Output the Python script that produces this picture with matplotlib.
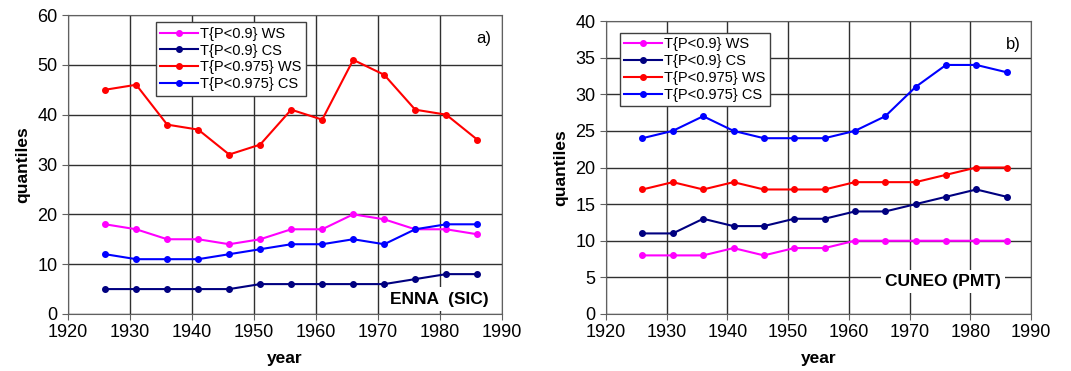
import numpy as np
import matplotlib
matplotlib.use('Agg')
import matplotlib.pyplot as plt

plt.rcParams['font.family'] = ['Liberation Sans', 'DejaVu Sans']

years = [1926, 1931, 1936, 1941, 1946, 1951, 1956, 1961, 1966, 1971, 1976, 1981, 1986]
labels = ['T{P<0.9} WS', 'T{P<0.9} CS', 'T{P<0.975} WS', 'T{P<0.975} CS']
colors = ['#ff00ff', '#000080', '#ff0000', '#0000ff']

# ENNA (SIC)
enna_ws90 = [18, 17, 15, 15, 14, 15, 17, 17, 20, 19, 17, 17, 16]
enna_cs90 = [5, 5, 5, 5, 5, 6, 6, 6, 6, 6, 7, 8, 8]
enna_ws975 = [45, 46, 38, 37, 32, 34, 41, 39, 51, 48, 41, 40, 35]
enna_cs975 = [12, 11, 11, 11, 12, 13, 14, 14, 15, 14, 17, 18, 18]

# CUNEO (PMT)
cuneo_ws90 = [8, 8, 8, 9, 8, 9, 9, 10, 10, 10, 10, 10, 10]
cuneo_cs90 = [11, 11, 13, 12, 12, 13, 13, 14, 14, 15, 16, 17, 16]
cuneo_ws975 = [17, 18, 17, 18, 17, 17, 17, 18, 18, 18, 19, 20, 20]
cuneo_cs975 = [24, 25, 27, 25, 24, 24, 24, 25, 27, 31, 34, 34, 33]

fig = plt.figure(figsize=(10.71, 3.71), dpi=100)
W, H = 1071, 371
ax1 = fig.add_axes([68 / W, 1 - 314 / H, (502 - 68) / W, (314 - 15) / H])
ax2 = fig.add_axes([606 / W, 1 - 314 / H, (1031 - 606) / W, (314 - 21) / H])


def draw(ax, series, ymax, ystep, tag, station, leg_box, st_pos):
    for vals, lab, c in zip(series, labels, colors):
        ax.plot(years, vals, color=c, lw=1.5, marker='o', ms=4, label=lab)
    ax.set_xlim(1920, 1990)
    ax.set_ylim(0, ymax)
    ax.set_xticks(np.arange(1920, 1991, 10))
    ax.set_yticks(np.arange(0, ymax + 1, ystep))
    ax.grid(True, color='#303030', lw=1)
    ax.set_axisbelow(True)
    for s in ax.spines.values():
        s.set_color('#606060')
    ax.tick_params(labelsize=13, length=4, color='#606060')
    ax.set_xlabel('year', fontsize=12.5, fontweight='bold', labelpad=7)
    ax.set_ylabel('quantiles', fontsize=12.5, fontweight='bold', labelpad=5)
    leg = ax.legend(loc='upper left', bbox_to_anchor=leg_box, fontsize=10.5,
                    frameon=True, fancybox=False, edgecolor='#404040',
                    handlelength=2.6, labelspacing=0.2, borderpad=0.3,
                    handletextpad=0.15, framealpha=1)
    leg.get_frame().set_linewidth(1)
    ax.text(0.975, 0.92, tag, transform=ax.transAxes, fontsize=12,
            ha='right', va='center')
    ax.text(st_pos[0], st_pos[1], station, transform=ax.transAxes,
            fontsize=12.5, fontweight='bold', ha='right', va='center',
            bbox=dict(facecolor='white', edgecolor='none', pad=3))


draw(ax1, [enna_ws90, enna_cs90, enna_ws975, enna_cs975], 60, 10, 'a)',
     'ENNA  (SIC)', (0.185, 1.0), (0.97, 0.05))
draw(ax2, [cuneo_ws90, cuneo_cs90, cuneo_ws975, cuneo_cs975], 40, 5, 'b)',
     'CUNEO (PMT)', (0.015, 0.985), (0.93, 0.11))

fig.savefig('out.png', dpi=100)
